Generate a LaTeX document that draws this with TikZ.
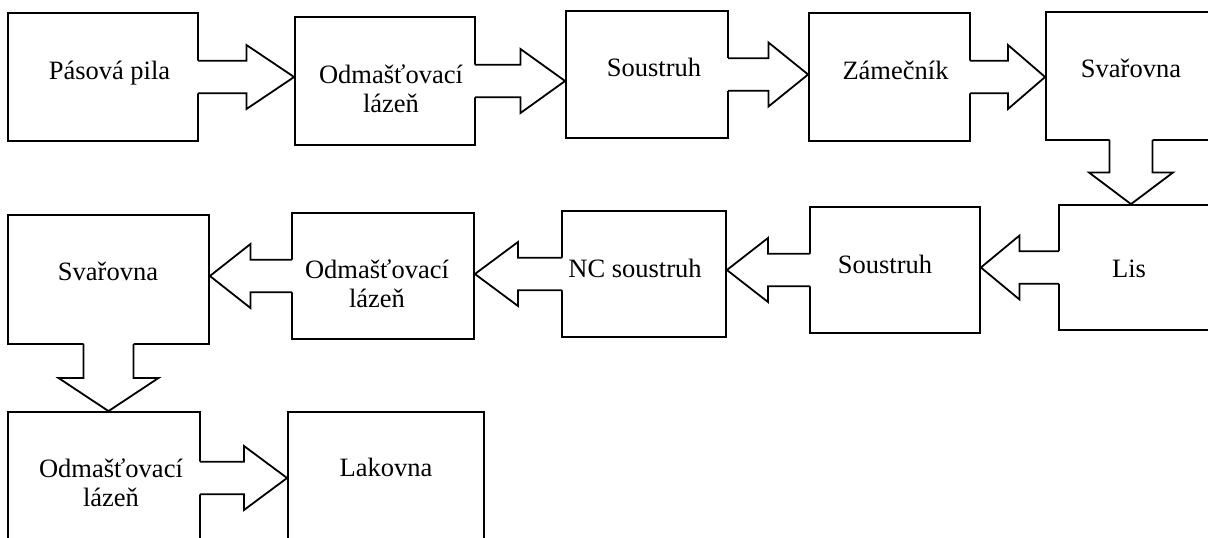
\documentclass[tikz,border=0pt]{standalone}
\usepackage{fontspec}
\setmainfont{Liberation Serif}
\usetikzlibrary{calc}

% Block arrows between stations: #1 source node, #2 target node,
% #3 half width of the shaft, #4 half width of the head.
% The head starts half-way across the gap; the fill hides the source edge.
\newcommand\flowEast[4]{%
  \fill[white] let \p1=(#1.east), \p2=(#2.west), \n1={0.5*(\x2-\x1)} in
    (\x1-3pt,\y1+#3) -- (\x1+\n1,\y1+#3) -- (\x1+\n1,\y1+#4) -- (\x2,\y1)
    -- (\x1+\n1,\y1-#4) -- (\x1+\n1,\y1-#3) -- (\x1-3pt,\y1-#3) -- cycle;
  \draw[flowline] let \p1=(#1.east), \p2=(#2.west), \n1={0.5*(\x2-\x1)} in
    (\x1,\y1+#3) -- (\x1+\n1,\y1+#3) -- (\x1+\n1,\y1+#4) -- (\x2,\y1)
    -- (\x1+\n1,\y1-#4) -- (\x1+\n1,\y1-#3) -- (\x1,\y1-#3);
}
\newcommand\flowWest[4]{%
  \fill[white] let \p1=(#1.west), \p2=(#2.east), \n1={0.5*(\x1-\x2)} in
    (\x1+3pt,\y1+#3) -- (\x1-\n1,\y1+#3) -- (\x1-\n1,\y1+#4) -- (\x2,\y1)
    -- (\x1-\n1,\y1-#4) -- (\x1-\n1,\y1-#3) -- (\x1+3pt,\y1-#3) -- cycle;
  \draw[flowline] let \p1=(#1.west), \p2=(#2.east), \n1={0.5*(\x1-\x2)} in
    (\x1,\y1+#3) -- (\x1-\n1,\y1+#3) -- (\x1-\n1,\y1+#4) -- (\x2,\y1)
    -- (\x1-\n1,\y1-#4) -- (\x1-\n1,\y1-#3) -- (\x1,\y1-#3);
}
\newcommand\flowSouth[4]{%
  \fill[white] let \p1=(#1.south), \p2=(#2.north), \n1={0.5*(\y1-\y2)} in
    (\x1+#3,\y1+3pt) -- (\x1+#3,\y1-\n1) -- (\x1+#4,\y1-\n1) -- (\x1,\y2)
    -- (\x1-#4,\y1-\n1) -- (\x1-#3,\y1-\n1) -- (\x1-#3,\y1+3pt) -- cycle;
  \draw[flowline] let \p1=(#1.south), \p2=(#2.north), \n1={0.5*(\y1-\y2)} in
    (\x1+#3,\y1) -- (\x1+#3,\y1-\n1) -- (\x1+#4,\y1-\n1) -- (\x1,\y2)
    -- (\x1-#4,\y1-\n1) -- (\x1-#3,\y1-\n1) -- (\x1-#3,\y1);
}

\tikzset{
  station/.style={draw, line width=1.8pt, fill=white, inner sep=0pt},
  flowline/.style={line width=1.8pt, line join=miter, line cap=rect},
  stationtext/.style={anchor=base, inner sep=0pt, font=\fontsize{26.5}{29.4}\selectfont},
}

\begin{document}
\begin{tikzpicture}[x=1pt, y=-1pt]
\useasboundingbox (0,0) rectangle (1208,538);
\clip (0,0) rectangle (1208,538);

% first row, left to right
\node[station, minimum width=190pt, minimum height=128pt] (pila)   at (103,77) {};
\node[station, minimum width=180pt, minimum height=128pt] (odm1)   at (385,81) {};
\node[station, minimum width=162pt, minimum height=127pt] (sous1)  at (647,74.5) {};
\node[station, minimum width=161pt, minimum height=128pt] (zam)    at (889.5,77) {};
\node[station, minimum width=170pt, minimum height=128pt] (svar1)  at (1131,76) {};

% second row, right to left
\node[station, minimum width=156pt, minimum height=125pt] (lis)    at (1137,267.5) {};
\node[station, minimum width=170pt, minimum height=126pt] (sous2)  at (895,270) {};
\node[station, minimum width=164pt, minimum height=126pt] (nc)     at (644,274) {};
\node[station, minimum width=182pt, minimum height=126pt] (odm2)   at (383,276) {};
\node[station, minimum width=201pt, minimum height=129pt] (svar2)  at (108.5,279.5) {};

% third row
\node[station, minimum width=192pt, minimum height=132pt] (odm3)   at (104,478) {};
\node[station, minimum width=196pt, minimum height=132pt] (lak)    at (386,478) {};

% labels
\node[stationtext] (tpila)  at (109.5,79) {Pásová pila};
\node[stationtext] (todm1)  at (391,83.3) {\begin{tabular}[t]{@{}c@{}}Odmašťovací\\lázeň\end{tabular}};
\node[stationtext] (tsous1) at (654,76) {Soustruh};
\node[stationtext] (tzam)   at (895.5,79) {Zámečník};
\node[stationtext] (tsvar1) at (1131,77) {Svařovna};
\node[stationtext] (tlis)   at (1129,277) {Lis};
\node[stationtext] (tsous2) at (885,273) {Soustruh};
\node[stationtext] (tnc)    at (635,277) {NC soustruh};
\node[stationtext] (todm2)  at (377,278.3) {\begin{tabular}[t]{@{}c@{}}Odmašťovací\\lázeň\end{tabular}};
\node[stationtext] (tsvar2) at (108,280) {Svařovna};
\node[stationtext] (todm3)  at (111,477.3) {\begin{tabular}[t]{@{}c@{}}Odmašťovací\\lázeň\end{tabular}};
\node[stationtext] (tlak)   at (386,476.7) {Lakovna};

% material flow
\flowEast{pila}{odm1}{16.3pt}{32pt}
\flowEast{odm1}{sous1}{16.3pt}{32pt}
\flowEast{sous1}{zam}{16.3pt}{32pt}
\flowEast{zam}{svar1}{16.3pt}{32pt}
\flowSouth{svar1}{lis}{21.5pt}{42pt}
\flowWest{lis}{sous2}{16.3pt}{32pt}
\flowWest{sous2}{nc}{16.3pt}{32pt}
\flowWest{nc}{odm2}{16.3pt}{32pt}
\flowWest{odm2}{svar2}{16.3pt}{32pt}
\flowSouth{svar2}{odm3}{25pt}{50pt}
\flowEast{odm3}{lak}{16.3pt}{32pt}
\end{tikzpicture}
\end{document}
